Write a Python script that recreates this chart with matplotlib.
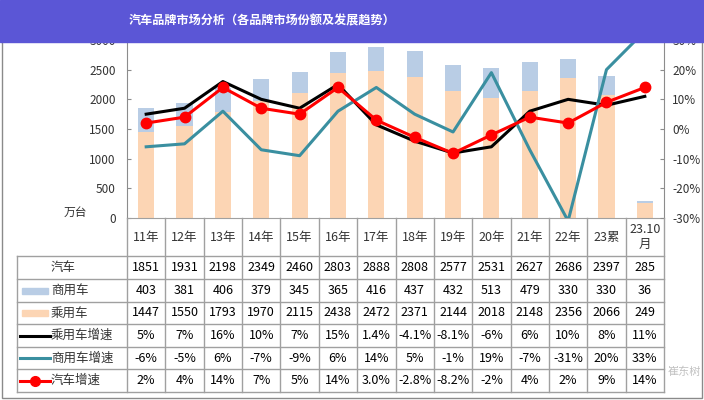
import numpy as np
import matplotlib
matplotlib.use('Agg')
import matplotlib.pyplot as plt
from matplotlib.transforms import blended_transform_factory
from matplotlib.patches import Rectangle

plt.rcParams['font.family'] = ['Noto Sans CJK SC', 'DejaVu Sans']

categories = ['11年', '12年', '13年', '14年', '15年', '16年', '17年', '18年',
              '19年', '20年', '21年', '22年', '23累', '23.10\n月']
total = [1851, 1931, 2198, 2349, 2460, 2803, 2888, 2808, 2577, 2531, 2627, 2686, 2397, 285]
commercial = [403, 381, 406, 379, 345, 365, 416, 437, 432, 513, 479, 330, 330, 36]
passenger = [1447, 1550, 1793, 1970, 2115, 2438, 2472, 2371, 2144, 2018, 2148, 2356, 2066, 249]
pass_growth = ['5%', '7%', '16%', '10%', '7%', '15%', '1.4%', '-4.1%', '-8.1%', '-6%', '6%', '10%', '8%', '11%']
comm_growth = ['-6%', '-5%', '6%', '-7%', '-9%', '6%', '14%', '5%', '-1%', '19%', '-7%', '-31%', '20%', '33%']
total_growth = ['2%', '4%', '14%', '7%', '5%', '14%', '3.0%', '-2.8%', '-8.2%', '-2%', '4%', '2%', '9%', '14%']

def pct(lbls):
    return [float(s.rstrip('%')) for s in lbls]

c_pass = '#FCD5B4'
c_comm = '#B9CDE5'
c_teal = '#3A8FA0'
c_axis = '#8C8C8C'
c_text = '#333333'

W, H = 704, 400
fig = plt.figure(figsize=(W / 100, H / 100), dpi=100)
fig.patch.set_facecolor('white')

ax = fig.add_axes([127 / W, 1 - 218 / H, (664 - 127) / W, (218 - 40) / H])
x = np.arange(len(categories))
ax.bar(x, passenger, width=0.42, color=c_pass, zorder=2)
ax.bar(x, commercial, bottom=passenger, width=0.42, color=c_comm, zorder=2)
ax.set_xlim(-0.5, len(categories) - 0.5)
ax.set_ylim(0, 3000)
ax.set_yticks(range(0, 3001, 500))
ax.set_xticks([])
ax.tick_params(axis='y', direction='in', length=3, color=c_axis, labelsize=8.5,
               labelcolor=c_text, pad=8)
for s in ['top', 'right']:
    ax.spines[s].set_visible(False)
ax.spines['left'].set_color(c_axis)
ax.spines['bottom'].set_color('#A0A0A0')

ax2 = ax.twinx()
ax2.set_ylim(-30, 30)
ax2.set_yticks(range(-30, 31, 10))
ax2.set_yticklabels([f'{v}%' for v in range(-30, 31, 10)])
ax2.tick_params(axis='y', direction='in', length=3, color=c_axis, labelsize=8.5,
                labelcolor=c_text, pad=6)
for s in ['top', 'left', 'bottom']:
    ax2.spines[s].set_visible(False)
ax2.spines['right'].set_color(c_axis)
ax2.plot(x, pct(pass_growth), color='black', lw=2.2, zorder=3)
ax2.plot(x, pct(comm_growth), color=c_teal, lw=2.2, zorder=3)
ax2.plot(x, pct(total_growth), color='red', lw=2.2, marker='o', ms=7.5, zorder=4)

# overlay in pixel coordinates for table, banner, frame
tab = fig.add_axes([0, 0, 1, 1], zorder=5)
tab.set_xlim(0, W)
tab.set_ylim(H, 0)
tab.axis('off')
tab.patch.set_alpha(0)
tr = blended_transform_factory(ax.transData, tab.transData)

rows_y = [256, 279, 302, 324, 347, 369, 392]
grid_c = '#A0A0A0'
n = len(categories)
for yy in rows_y:
    tab.plot([17, 664], [yy, yy], color=grid_c, lw=1)
tab.plot([17, 17], [rows_y[0], rows_y[-1]], color=grid_c, lw=1)
for i in range(n + 1):
    tab.plot([i - 0.5, i - 0.5], [218, rows_y[-1]], color=grid_c, lw=1, transform=tr)

for i, c in enumerate(categories):
    tab.text(i, 237, c, transform=tr, ha='center', va='center', fontsize=9,
             color=c_text, linespacing=1.2)

table_rows = [
    ('汽车', [str(v) for v in total]),
    ('商用车', [str(v) for v in commercial]),
    ('乘用车', [str(v) for v in passenger]),
    ('乘用车增速', pass_growth),
    ('商用车增速', comm_growth),
    ('汽车增速', total_growth),
]
for r, (name, vals) in enumerate(table_rows):
    yc = (rows_y[r] + rows_y[r + 1]) / 2
    tab.text(51, yc, name, ha='left', va='center', fontsize=9, color=c_text)
    for i, v in enumerate(vals):
        tab.text(i, yc, v, transform=tr, ha='center', va='center', fontsize=9,
                 color='black')

# legend keys in the row headers
def ymid(r):
    return (rows_y[r] + rows_y[r + 1]) / 2

tab.add_patch(Rectangle((22, ymid(1) - 3), 26, 6, color=c_comm))
tab.add_patch(Rectangle((22, ymid(2) - 3), 26, 6, color=c_pass))
tab.plot([20, 50], [ymid(3), ymid(3)], color='black', lw=2.2)
tab.plot([20, 50], [ymid(4), ymid(4)], color=c_teal, lw=2.2)
tab.plot([20, 50], [ymid(5), ymid(5)], color='red', lw=2.2)
tab.plot([35], [ymid(5)], 'o', color='red', ms=7)

tab.text(75, 212, '万台', ha='center', va='center', fontsize=8.5, color=c_text)

# watermark, kept clear of the table numbers
tab.text(684, 372, '崔东树', ha='center', va='center', fontsize=8,
         color='#999999', alpha=0.6)

# outer frame and title banner
tab.add_patch(Rectangle((1.5, 1.5), 700, 396, fill=False, edgecolor='#8A8A8A', lw=1))
tab.add_patch(Rectangle((0, 0), W, 42, color='#5B56D6', zorder=10))
tab.text(262, 21, '汽车品牌市场分析（各品牌市场份额及发展趋势）', ha='center',
         va='center', fontsize=8.7, color='white', fontweight='bold', zorder=11)

fig.savefig('out.png', dpi=100)
